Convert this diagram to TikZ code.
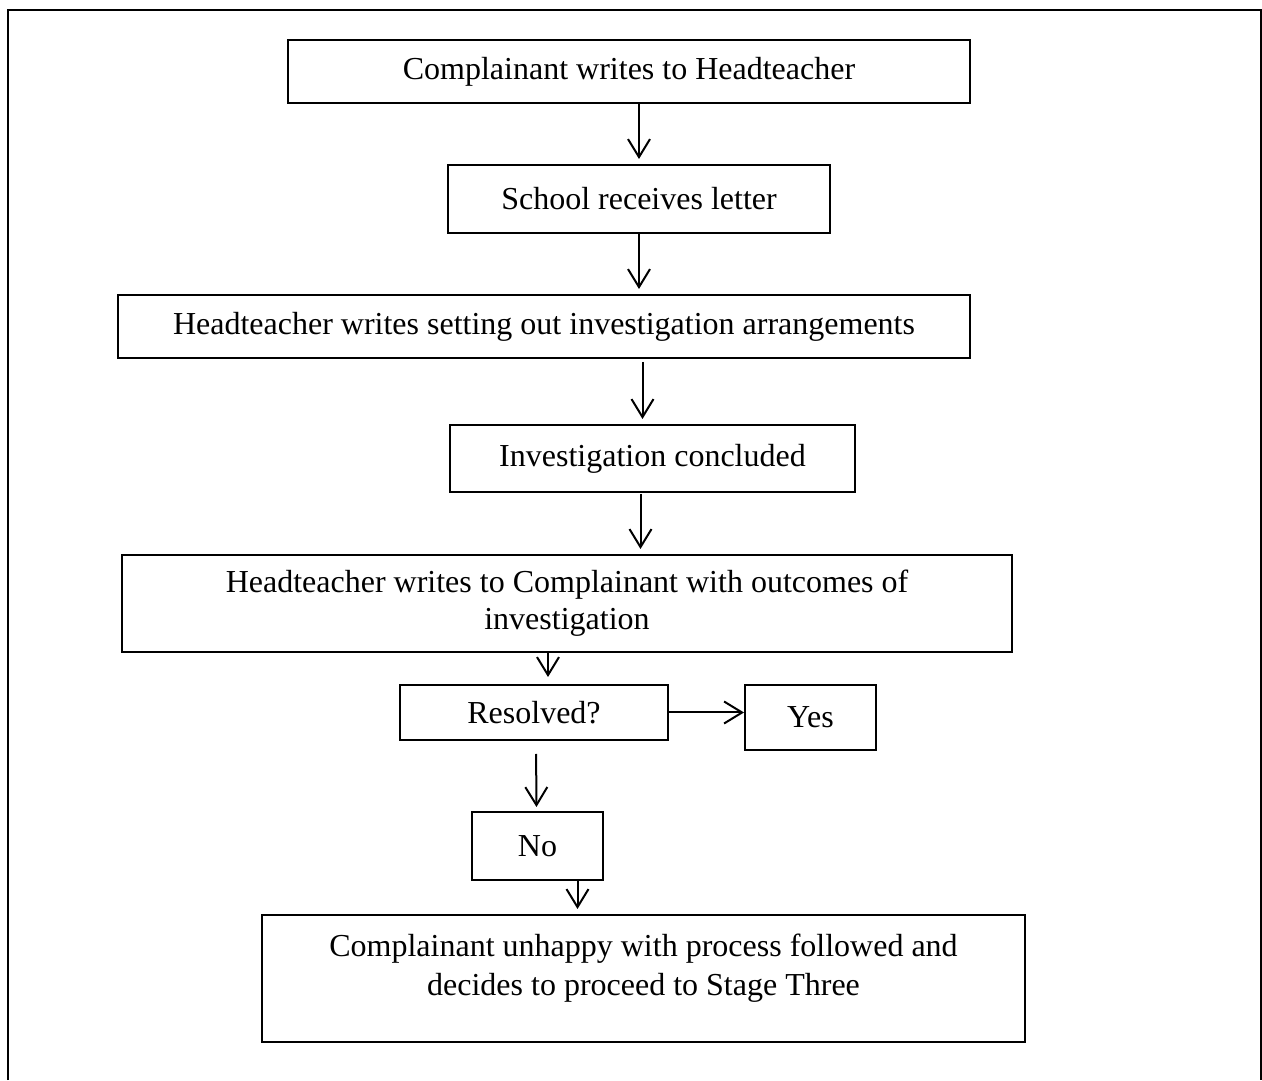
\documentclass[tikz,border=0pt]{standalone}
\usepackage{fontspec}
\setmainfont{Liberation Serif}
\usetikzlibrary{arrows.meta}

\begin{document}
\begin{tikzpicture}[x=1pt,y=1pt,>={Straight Barb[length=18pt,width=22pt]}]

% ----------------------------
% Styles
% ----------------------------
\tikzset{
	box/.style={draw=black,line width=2pt,align=center,inner sep=0pt,
		font=\fontsize{32}{37}\selectfont},
	arr/.style={->,line width=2pt},
	frame/.style={line width=2.5pt}
}

\useasboundingbox (0,0) rectangle (1262,1080);

% Page frame (open at the bottom)
\draw[frame] (8,0) -- (8,1070) -- (1261,1070) -- (1261,0);

% ============================================================
% Boxes
% ============================================================
\node[box,minimum width=682pt,minimum height=63pt] (complain) at (629,1008.5)
	{Complainant writes to Headteacher};
\node[box,minimum width=382pt,minimum height=68pt] (receive) at (639,881)
	{School receives letter};
\node[box,minimum width=852pt,minimum height=63pt] (setout) at (544,753.5)
	{Headteacher writes setting out investigation arrangements};
\node[box,minimum width=405pt,minimum height=67pt] (concluded) at (652.5,621.5)
	{Investigation concluded};
\node[box,minimum width=890pt,minimum height=97pt] (outcome) at (567,476.5)
	{Headteacher writes to Complainant with outcomes of\\investigation};
\node[box,minimum width=268pt,minimum height=55pt] (resolved) at (534,367.5)
	{Resolved?};
\node[box,minimum width=131pt,minimum height=65pt] (yes) at (810.5,362.5)
	{Yes};
\node[box,minimum width=131pt,minimum height=68pt] (no) at (537.5,234)
	{No};
\node[box,minimum width=763pt,minimum height=127pt,text depth=28pt,
	font=\fontsize{32}{39}\selectfont] (unhappy) at (643.5,101.5)
	{Complainant unhappy with process followed and\\decides to proceed to Stage Three};

% ============================================================
% Arrows
% ============================================================
\draw[arr,shorten >=5pt] (complain.south -| receive) -- (receive.north);
\draw[arr,shorten >=5pt] (receive.south) -- (receive |- setout.north);
\draw[arr,shorten <=3pt,shorten >=5pt] ([xshift=-10pt]concluded.north |- setout.south) -- ([xshift=-10pt]concluded.north);
\draw[arr,shorten <=1pt,shorten >=5pt] ([xshift=-12pt]concluded.south) -- ([xshift=-12pt]concluded.south |- outcome.north);
\draw[arr,shorten >=7pt] ([xshift=14pt]resolved.north |- outcome.south) -- ([xshift=14pt]resolved.north);
\draw[arr] (resolved.east) -- (resolved.east -| yes.west);
\draw[arr,shorten <=13pt,shorten >=4pt] ([xshift=2pt]resolved.south) -- ([xshift=-1pt]no.north);
\draw[arr,shorten >=5pt] ([xshift=40pt]no.south) -- ([xshift=40pt]no.south |- unhappy.north);

\end{tikzpicture}
\end{document}
